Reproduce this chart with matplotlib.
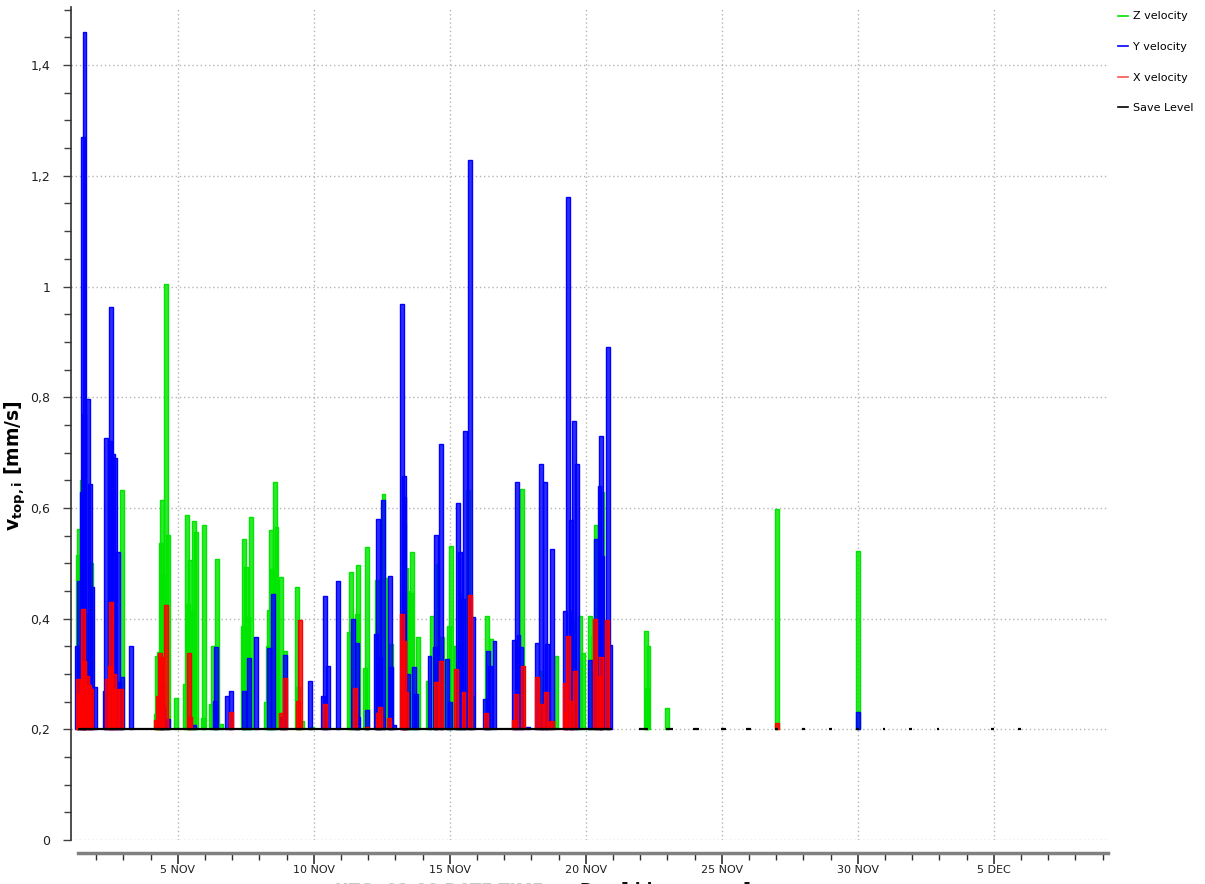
import numpy as np
import matplotlib
matplotlib.use('Agg')
import matplotlib.pyplot as plt
import matplotlib.dates as mdates
from matplotlib.ticker import FuncFormatter, MultipleLocator
from matplotlib.lines import Line2D

# ---- data: x = fractional day counted from 1 Nov (32 = 2 Dec), values in mm/s ----
z_day = [1.32, 1.36, 1.47, 1.58, 1.80, 2.50, 2.94, 4.19, 4.23, 4.30, 4.38, 4.41, 4.45, 4.56,
         4.63, 4.93, 5.26, 5.33, 5.37, 5.44, 5.51, 5.59, 5.66, 5.92, 5.96, 6.21, 6.29, 6.43,
         6.58, 7.39, 7.43, 7.50, 7.57, 7.68, 8.24, 8.31, 8.36, 8.42, 8.46, 8.57, 8.62, 8.79,
         8.93, 9.38, 9.41, 9.56, 9.93, 11.29, 11.36, 11.58, 11.62, 11.88, 11.95, 12.32, 12.39,
         12.56, 12.61, 12.83, 13.31, 13.38, 13.46, 13.57, 13.60, 13.82, 14.19, 14.34, 14.54,
         14.71, 14.96, 15.04, 15.22, 15.37, 15.40, 15.66, 15.81, 16.36, 16.51, 17.65, 18.36,
         18.60, 18.93, 19.49, 19.78, 19.89, 20.15, 20.26, 20.37, 20.48, 20.62, 20.77, 22.21,
         22.24, 22.30, 22.98, 27.02, 30.00]
z_val = [0.515, 0.561, 0.651, 0.408, 0.50, 0.67, 0.632, 0.228, 0.333, 0.339, 0.537, 0.615,
         0.48, 1.004, 0.551, 0.257, 0.282, 0.587, 0.426, 0.505, 0.414, 0.576, 0.556, 0.22,
         0.57, 0.246, 0.351, 0.507, 0.209, 0.387, 0.543, 0.494, 0.402, 0.583, 0.25, 0.351,
         0.415, 0.56, 0.49, 0.646, 0.565, 0.476, 0.342, 0.458, 0.276, 0.215, 0.204, 0.375,
         0.485, 0.408, 0.497, 0.311, 0.53, 0.47, 0.39, 0.625, 0.474, 0.354, 0.573, 0.492,
         0.45, 0.447, 0.52, 0.366, 0.288, 0.405, 0.498, 0.366, 0.386, 0.532, 0.351, 0.294,
         0.447, 0.632, 0.26, 0.405, 0.363, 0.635, 0.306, 0.234, 0.332, 0.398, 0.405, 0.338,
         0.405, 0.369, 0.57, 0.483, 0.628, 0.215, 0.378, 0.274, 0.351, 0.239, 0.598, 0.522]

y_day = [1.29, 1.36, 1.47, 1.51, 1.54, 1.56, 1.69, 1.76, 1.84, 1.95, 2.32, 2.35, 2.50, 2.54,
         2.61, 2.68, 2.79, 2.83, 2.94, 3.27, 4.41, 4.45, 4.63, 5.59, 6.36, 6.40, 6.80, 6.95,
         7.43, 7.61, 7.87, 8.36, 8.49, 8.82, 8.93, 9.85, 10.33, 10.40, 10.51, 10.88, 11.43,
         11.58, 11.62, 11.95, 12.28, 12.35, 12.43, 12.54, 12.79, 12.83, 12.94, 13.24, 13.31,
         13.33, 13.46, 13.68, 13.75, 14.26, 14.45, 14.50, 14.67, 14.89, 15.00, 15.29, 15.37,
         15.48, 15.55, 15.74, 15.85, 16.29, 16.40, 16.47, 16.65, 17.35, 17.46, 17.52, 17.61,
         17.87, 18.20, 18.35, 18.42, 18.49, 18.57, 18.75, 19.23, 19.34, 19.45, 19.47, 19.56,
         19.67, 20.15, 20.37, 20.51, 20.55, 20.59, 20.81, 20.90, 30.00]
y_val = [0.35, 0.468, 0.629, 1.27, 0.77, 1.46, 0.797, 0.644, 0.457, 0.276, 0.27, 0.726,
         0.72, 0.963, 0.698, 0.69, 0.52, 0.285, 0.294, 0.35, 0.282, 0.24, 0.219, 0.207,
         0.252, 0.348, 0.261, 0.269, 0.269, 0.328, 0.366, 0.347, 0.444, 0.222, 0.335, 0.288,
         0.26, 0.441, 0.315, 0.468, 0.40, 0.356, 0.222, 0.234, 0.372, 0.58, 0.33, 0.614,
         0.477, 0.312, 0.207, 0.969, 0.658, 0.62, 0.30, 0.313, 0.264, 0.332, 0.348, 0.551,
         0.716, 0.327, 0.25, 0.609, 0.52, 0.435, 0.739, 1.229, 0.402, 0.255, 0.342, 0.315,
         0.36, 0.362, 0.646, 0.37, 0.348, 0.204, 0.356, 0.679, 0.211, 0.646, 0.354, 0.526,
         0.414, 1.162, 0.578, 0.413, 0.757, 0.679, 0.325, 0.544, 0.64, 0.73, 0.513, 0.89,
         0.353, 0.231]

x_day = [1.32, 1.40, 1.51, 1.54, 1.58, 1.65, 1.73, 1.80, 2.39, 2.50, 2.54, 2.65, 2.72, 2.90,
         4.19, 4.26, 4.34, 4.38, 4.56, 5.40, 5.44, 6.95, 8.79, 8.93, 9.41, 9.49, 10.40, 11.51,
         11.95, 12.35, 12.43, 12.76, 13.24, 13.31, 13.38, 14.50, 14.67, 15.22, 15.51, 15.74,
         16.32, 17.35, 17.43, 17.68, 18.20, 18.35, 18.53, 18.64, 18.75, 19.23, 19.26, 19.34,
         19.45, 19.60, 20.33, 20.48, 20.55, 20.77, 27.02]
x_val = [0.29, 0.264, 0.417, 0.324, 0.234, 0.297, 0.28, 0.273, 0.29, 0.315, 0.43, 0.30,
         0.273, 0.273, 0.216, 0.26, 0.337, 0.33, 0.424, 0.337, 0.222, 0.231, 0.23, 0.293,
         0.252, 0.398, 0.246, 0.275, 0.204, 0.23, 0.24, 0.22, 0.408, 0.36, 0.267, 0.285,
         0.324, 0.309, 0.267, 0.443, 0.23, 0.216, 0.264, 0.315, 0.295, 0.246, 0.267, 0.213,
         0.215, 0.283, 0.231, 0.368, 0.252, 0.306, 0.40, 0.297, 0.33, 0.398, 0.212]

save_start = [1.32, 21.95, 22.94, 23.93, 24.96, 25.90, 26.95, 27.94, 28.93, 29.93, 30.92,
              31.87, 32.90, 34.90, 35.90]
save_end = [20.96, 22.30, 23.20, 24.15, 25.15, 26.07, 27.06, 28.05, 29.04, 30.04, 31.00,
            32.00, 32.98, 35.00, 35.99]
save_level = 0.2

series_labels = ["Z velocity", "Y velocity", "X velocity", "Save Level"]
series_colors = ["#00e600", "#0000ff", "#ff0000", "#000000"]
ytick_values = [0, 0.2, 0.4, 0.6, 0.8, 1.0, 1.2, 1.4]
ylabel = r"$\mathbf{v_{top,i}}$ [mm/s]"

# ---- figure ----
W, H = 1205, 884
fig = plt.figure(figsize=(W / 100, H / 100), dpi=100)
ax_w = 1108 - 71
ax = fig.add_axes([71 / W, 44 / H, ax_w / W, (840 - 7) / H])

base = mdates.date2num(np.datetime64('2021-11-01T00:00'))
def to_num(days):
    return base + np.asarray(days, dtype=float) - 1.0

bar_w = 0.13
def draw_bars(days, vals, color):
    vals = np.asarray(vals, dtype=float)
    rgb = matplotlib.colors.to_rgb(color)
    ax.bar(to_num(days), vals - save_level, bottom=save_level, width=bar_w,
           facecolor=(*rgb, 0.82), edgecolor=(*rgb, 1.0), linewidth=1.0, align='center',
           zorder=3)

draw_bars(z_day, z_val, series_colors[0])
draw_bars(y_day, y_val, series_colors[1])
draw_bars(x_day, x_val, series_colors[2])
ax.hlines([save_level] * len(save_start), to_num(save_start), to_num(save_end),
          colors=series_colors[3], linewidth=1.6, zorder=4)

# axes limits
ax.set_xlim(to_num(1.07), to_num(39.2))
ax.set_ylim(0, 1.505)

# y axis
ax.set_yticks(ytick_values)
ax.yaxis.set_minor_locator(MultipleLocator(0.05))
ax.yaxis.set_major_formatter(FuncFormatter(lambda v, p: f"{v:g}".replace('.', ',')))
ax.tick_params(axis='y', which='major', direction='out', length=6, width=1,
               color='#404040', labelsize=9, labelcolor='#202020', pad=9)
ax.tick_params(axis='y', which='minor', direction='out', length=5, width=1, color='#404040')
ax.set_ylabel(ylabel, fontsize=13.5, fontweight='bold')
ax.yaxis.set_label_coords(-(71 - 28) / ax_w, 0.45)

# x axis
ax.xaxis.set_major_locator(mdates.DayLocator(bymonthday=[5, 10, 15, 20, 25, 30]))
ax.xaxis.set_minor_locator(mdates.DayLocator())
def fmt_date(x, pos):
    d = mdates.num2date(x)
    return f"{d.day} {d.strftime('%b').upper()}"
ax.xaxis.set_major_formatter(FuncFormatter(fmt_date))
ax.tick_params(axis='x', which='major', direction='out', length=8, width=1.2,
               color='#303030', labelsize=8, labelcolor='#202020', pad=1)
ax.tick_params(axis='x', which='minor', direction='out', length=5, width=1, color='#303030')

for s in ['top', 'right']:
    ax.spines[s].set_visible(False)
ax.spines['left'].set_color('#303030')
ax.spines['left'].set_linewidth(1.2)
ax.spines['bottom'].set_position(('outward', 9))
ax.spines['bottom'].set_color('#808080')
ax.spines['bottom'].set_linewidth(2.5)
ax.spines['bottom'].set_bounds(to_num(1.32), to_num(39.2))

ax.grid(True, which='major', color='#b5b5b5', linestyle=(0, (1, 2)), linewidth=1, zorder=0)
ax.set_axisbelow(True)

# legend
handles = [Line2D([0], [0], color=c, lw=1.2) for c in series_colors]
handles[2] = Line2D([0], [0], color='#ff5050', lw=1.2)
fig.legend(handles, series_labels, loc='upper left', bbox_to_anchor=(1114 / W, 1 - 7 / H),
           frameon=False, fontsize=8, handlelength=0.9, handletextpad=0.4,
           labelspacing=1.85, borderaxespad=0)

# cut-off axis title at the very bottom (as in the reference)
fig.text(335 / W, 1.5 / H, "UTC+01:00 DATE TIME", color='#c8c8c8', fontsize=12,
         fontweight='bold', va='top', ha='left')
fig.text(580 / W, 1.5 / H, "Day [dd.mm.yyyy]", color='#101010', fontsize=12,
         fontweight='bold', va='top', ha='left')

fig.savefig('out.png', dpi=100)
